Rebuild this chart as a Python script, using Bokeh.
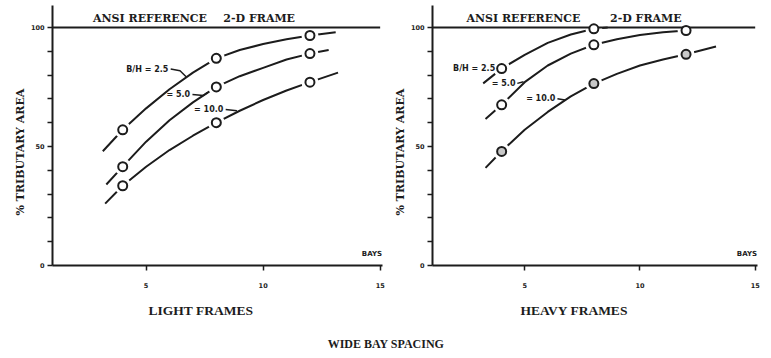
from bokeh.plotting import figure
from bokeh.models import Range1d, FixedTicker, Title
from bokeh.layouts import row, column
from bokeh.embed import file_html
from bokeh.resources import INLINE
from bokeh.core.properties import value

# ---------------- data ----------------
bays_pts = [4, 8, 12]

# LIGHT FRAMES - measured points
light_25 = [57, 87, 96.6]
light_50 = [41.5, 75, 89]
light_100 = [33.5, 60, 77]

# LIGHT FRAMES - faired curves
light_25_cx = [3.15, 4, 5, 6, 7, 8, 9, 10, 11, 12, 13.1]
light_25_cy = [48, 57, 66, 74, 81, 87, 90.5, 93, 95, 96.6, 98]
light_50_cx = [3.3, 4, 5, 6, 7, 8, 9, 10, 11, 12, 12.8]
light_50_cy = [34, 41.5, 52, 61, 68.5, 75, 79.5, 83, 86.5, 89, 90.5]
light_100_cx = [3.25, 4, 5, 6, 7, 8, 9, 10, 11, 12, 13.2]
light_100_cy = [26, 33.5, 41.5, 48.5, 54.5, 60, 65, 69.5, 73.5, 77, 81]

# HEAVY FRAMES - measured points
heavy_25_x = [4, 8]
heavy_25 = [82.7, 99.4]
heavy_50 = [67.5, 92.7, 98.7]
heavy_100 = [47.9, 76.4, 88.7]

# HEAVY FRAMES - faired curves
heavy_25_cx = [3.2, 4, 5, 6, 7, 8, 8.6]
heavy_25_cy = [76.5, 82.7, 88.5, 93.5, 97, 99.4, 100]
heavy_50_cx = [3.3, 4, 5, 6, 7, 8, 9, 10, 11, 12]
heavy_50_cy = [61.5, 67.5, 77, 84, 89, 92.7, 95, 96.8, 98, 98.7]
heavy_100_cx = [3.3, 4, 5, 6, 7, 8, 9, 10, 11, 12, 13.3]
heavy_100_cy = [41, 48, 57, 64.5, 71, 76.4, 80.5, 84, 86.5, 88.7, 92]

x_ticks = [5, 10, 15]
y_ticks = [0, 10, 20, 30, 40, 50, 60, 70, 80, 90, 100]
y_tick_labels = {0: "0", 50: "50", 100: "100"}
reference_level = 100

INK = "#1c1c1c"
SERIF = "Liberation Serif"
WIDE_SERIF = "DejaVu Serif"
SANS = "DejaVu Sans"


def make_panel(width, border_left, border_right, ylabel_standoff, title_text, title_offset):
    p = figure(width=width, height=329, x_range=Range1d(1, 15.1), y_range=Range1d(0, 109.2),
               output_backend="svg", toolbar_location=None,
               min_border_left=border_left, min_border_right=border_right,
               min_border_top=5, min_border_bottom=64)
    p.outline_line_color = None
    p.grid.visible = False
    p.background_fill_color = "white"
    p.border_fill_color = "white"

    xa = p.xaxis[0]
    xa.ticker = FixedTicker(ticks=x_ticks)
    xa.axis_line_width = 2
    xa.axis_line_color = INK
    xa.major_tick_line_color = INK
    xa.major_tick_line_width = 1.5
    xa.major_tick_out = 5
    xa.major_tick_in = 0
    xa.minor_tick_line_color = None
    xa.major_label_text_font = SANS
    xa.major_label_text_font_style = "bold"
    xa.major_label_text_font_size = "6.5px"
    xa.major_label_text_color = INK
    xa.major_label_standoff = 12

    ya = p.yaxis[0]
    ya.ticker = FixedTicker(ticks=y_ticks)
    ya.major_label_overrides = {t: y_tick_labels.get(t, "") for t in y_ticks}
    ya.axis_line_width = 2
    ya.axis_line_color = INK
    ya.major_tick_line_color = INK
    ya.major_tick_line_width = 1.5
    ya.major_tick_out = 5
    ya.major_tick_in = 0
    ya.minor_tick_line_color = None
    ya.major_label_text_font = SANS
    ya.major_label_text_font_style = "bold"
    ya.major_label_text_font_size = "6.5px"
    ya.major_label_text_color = INK
    ya.major_label_standoff = 3

    yt = Title(text="% TRIBUTARY AREA", align="left", offset=50, vertical_align="middle",
               text_font=WIDE_SERIF, text_font_style="bold", text_font_size="11px",
               text_color=INK, standoff=ylabel_standoff)
    p.add_layout(yt, "left")

    t = Title(text=title_text, align="left", offset=title_offset,
              text_font=SERIF, text_font_style="bold", text_font_size="13.5px",
              text_color=INK, standoff=20)
    p.add_layout(t, "below")
    return p


def draw_series(p, cx, cy, px, py):
    p.line(cx, cy, line_width=2, line_color=INK)
    p.scatter(px, py, size=17, marker="circle", fill_color="white", line_color=None)


def draw_marks(p, px, py, fill="white"):
    p.scatter(px, py, size=9, marker="circle", fill_color=fill, line_color=INK, line_width=2)


def header(p, x_ansi, x_frame):
    kw = dict(text_font=value(WIDE_SERIF), text_font_style="bold", text_font_size="11px",
              text_color=INK, text_baseline="middle", text_align="left")
    p.text(x=[x_ansi], y=[103.8], text=["ANSI REFERENCE"], **kw)
    p.text(x=[x_frame], y=[103.8], text=["2-D FRAME"], **kw)
    p.text(x=[15.08], y=[5], text=["BAYS"], text_font=value(SANS), text_font_style="bold",
           text_font_size="7px", text_color=INK, text_baseline="middle", text_align="right")


def curve_label(p, x, y, txt):
    p.text(x=[x], y=[y], text=[txt], text_font=value(SANS), text_font_style="bold",
           text_font_size="8px", text_color=INK, text_baseline="middle", text_align="right")


# ---------------- LIGHT FRAMES ----------------
p1 = make_panel(392, 52, 10, 0, "LIGHT FRAMES", 96)
draw_series(p1, light_25_cx, light_25_cy, bays_pts, light_25)
draw_series(p1, light_50_cx, light_50_cy, bays_pts, light_50)
draw_series(p1, light_100_cx, light_100_cy, bays_pts, light_100)
p1.line([1, 15], [reference_level, reference_level], line_width=2, line_color=INK)
draw_marks(p1, bays_pts, light_25)
draw_marks(p1, bays_pts, light_50)
draw_marks(p1, bays_pts, light_100)
header(p1, 2.73, 8.3)
curve_label(p1, 5.95, 82.5, "B/H = 2.5")
p1.line([6.05, 6.45, 6.72], [82.5, 81.8, 79.2], line_width=1.5, line_color=INK)
curve_label(p1, 6.88, 71.8, "= 5.0")
p1.line([6.98, 7.45, 7.62], [71.8, 71.4, 72.6], line_width=1.5, line_color=INK)
curve_label(p1, 8.3, 65.5, "= 10.0")
p1.line([8.4, 8.88], [65.5, 65.0], line_width=1.5, line_color=INK)

# ---------------- HEAVY FRAMES ----------------
p2 = make_panel(379, 36, 14, 0, "HEAVY FRAMES", 88)
draw_series(p2, heavy_25_cx, heavy_25_cy, heavy_25_x, heavy_25)
draw_series(p2, heavy_50_cx, heavy_50_cy, bays_pts, heavy_50)
draw_series(p2, heavy_100_cx, heavy_100_cy, bays_pts, heavy_100)
p2.line([1, 15], [reference_level, reference_level], line_width=2, line_color=INK)
draw_marks(p2, heavy_25_x, heavy_25)
draw_marks(p2, bays_pts, heavy_50)
draw_marks(p2, bays_pts, heavy_100, fill="#c8c8c8")
header(p2, 2.47, 8.7)
curve_label(p2, 3.72, 82.8, "B/H = 2.5")
curve_label(p2, 4.6, 76.5, "= 5.0")
p2.line([4.68, 4.95], [76.5, 77.2], line_width=1.5, line_color=INK)
curve_label(p2, 6.33, 70, "= 10.0")
p2.line([6.42, 6.75], [70, 69.5], line_width=1.5, line_color=INK)

# ---------------- overall caption ----------------
p3 = figure(width=771, height=29, output_backend="svg", toolbar_location=None,
            x_axis_type=None, y_axis_type=None, min_border_top=25, min_border_bottom=0,
            min_border_left=0, min_border_right=0)
p3.outline_line_color = None
p3.grid.visible = False
p3.title.text = "WIDE BAY SPACING"
p3.title.align = "center"
p3.title.text_font = SERIF
p3.title.text_font_style = "bold"
p3.title.text_font_size = "12px"
p3.title.text_color = INK

layout = column(row(p1, p2), p3)
open("out.html", "w").write(file_html(layout, INLINE))
